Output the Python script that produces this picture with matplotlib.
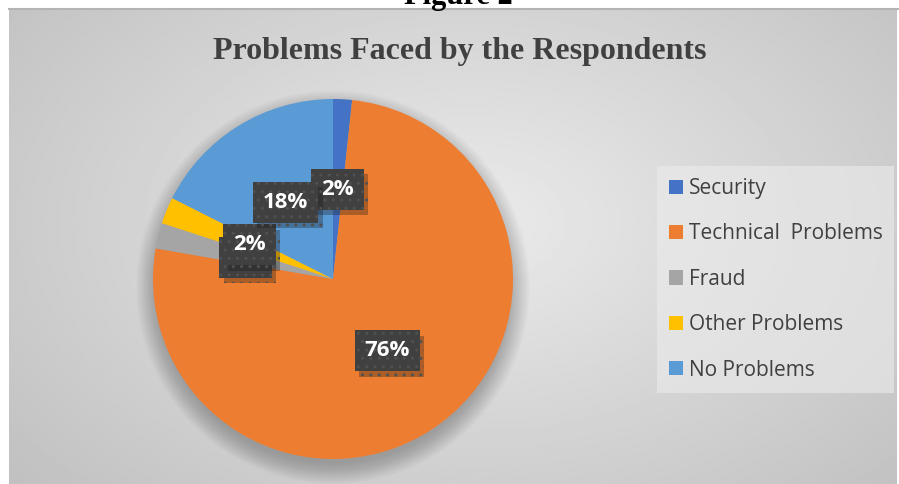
import matplotlib.pyplot as plt
import matplotlib.patheffects as pe
from matplotlib.patches import Circle
import numpy as np

# daten
categories = ['Security', 'Technical  Problems', 'Fraud', 'Other Problems', 'No Problems']
shares = [1.7, 76.1, 2.3, 2.4, 17.6]
colors = ['#4472C4', '#ED7D31', '#A5A5A5', '#FFC000', '#5B9BD5']

W, H = 899, 484
fig = plt.figure(figsize=(W/100, H/100), dpi=100)
fig.patch.set_facecolor('white')

# Hintergrund mit Verlauf
bg = fig.add_axes([9/W, 0, (W-11)/W, (H-9)/H])
yy, xx = np.mgrid[0:1:300j, 0:1:500j]
d = np.sqrt(((xx-0.52)/0.75)**2 + ((yy-0.45)/0.9)**2)
grad = 0.92 - 0.18*np.clip(d, 0, 1)
bg.imshow(grad, cmap='gray', vmin=0, vmax=1, aspect='auto', extent=(0, 1, 0, 1), interpolation='bilinear')
bg.set_axis_off()
fig.add_artist(plt.Line2D([9/W, 1], [1-8.5/H, 1-8.5/H], color='#b4b4b4', lw=1.5))

# Ueberschrift
fig.text(458/W, 1-4/H, 'Figure 2', ha='center', va='baseline',
         family='Liberation Serif', weight='bold', fontsize=22, color='black')
fig.text(460/W, 1-52/H, 'Problems Faced by the Respondents', ha='center', va='center',
         family='Liberation Serif', weight='bold', fontsize=23, color='#404040')

# Kreisdiagramm
cx, cy, r = 333, 279, 180
ax = fig.add_axes([(cx-r)/W, (H-cy-r)/H, 2*r/W, 2*r/H])
# weicher Schatten
for k in range(20):
    ax.add_patch(Circle((0.0, -0.045), 0.98 + k*0.006, color='black', alpha=0.012, lw=0,
                        zorder=0, clip_on=False))
wedges, texts, autotexts = ax.pie(shares, colors=colors, startangle=90, counterclock=False,
                                  autopct='%1.0f%%', pctdistance=0.5,
                                  wedgeprops=dict(linewidth=0, zorder=2, clip_on=False),
                                  textprops=dict(color='white', fontsize=16, weight='bold',
                                                 family='Open Sans'))
for t in autotexts:
    t.set_bbox(dict(boxstyle='square,pad=0.45', facecolor='#404040', edgecolor='#505050',
                    linewidth=0, hatch='..'))
    t.get_bbox_patch().set_path_effects([pe.SimplePatchShadow(offset=(3, -4), alpha=0.3),
                                         pe.Normal()])
    t.set_zorder(5)
ax.set_xlim(-1, 1)
ax.set_ylim(-1, 1)
ax.set_aspect('auto')
ax.set_axis_off()

# Legende
leg = fig.legend(wedges, categories, loc='upper left',
                 bbox_to_anchor=(657/W, 1-166/H-0.01, 237/W, 0.01), mode='expand',
                 frameon=True, fancybox=False, facecolor='#ececec', edgecolor='none',
                 framealpha=0.6, prop=dict(family='Open Sans', size=15),
                 handlelength=0.67, handleheight=0.67, handletextpad=0.3,
                 labelspacing=1.17, borderpad=0.58, borderaxespad=0)
for t in leg.get_texts():
    t.set_color('#404040')

fig.savefig('out.png', dpi=100)
